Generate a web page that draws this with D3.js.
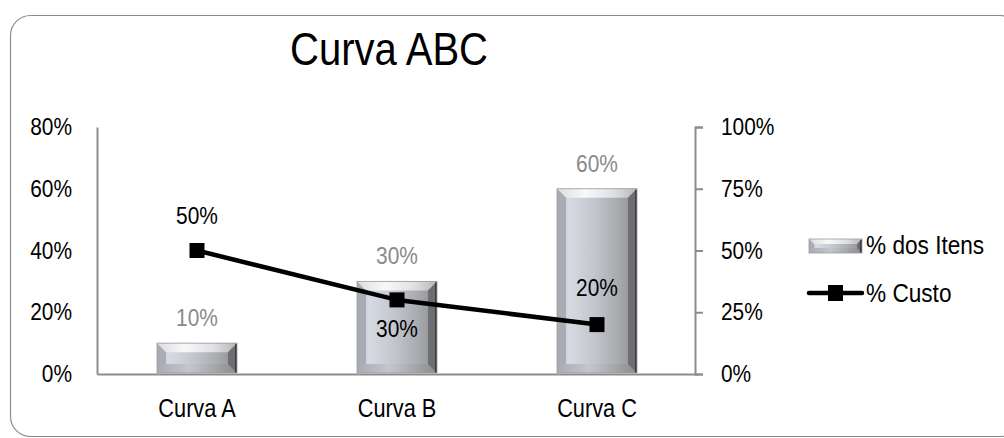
<!DOCTYPE html>
<html>
<head>
<meta charset="utf-8">
<script src="https://cdn.jsdelivr.net/npm/d3@7"></script>
<style>
  html, body { margin: 0; padding: 0; background: #fff; }
  svg { display: block; }
  text { font-family: "Liberation Sans", Arial, sans-serif; }
</style>
</head>
<body>
<svg id="chart" width="1004" height="438"></svg>
<script>
// Data
const categories = ["Curva A", "Curva B", "Curva C"];
const itensPct = [0.10, 0.30, 0.60];   // % dos Itens (bars, left axis)
const custoPct = [0.50, 0.30, 0.20];   // % Custo (line, right axis)
const leftTicks = [0, 0.2, 0.4, 0.6, 0.8];
const rightTicks = [0, 0.25, 0.5, 0.75, 1.0];
const seriesNames = ["% dos Itens", "% Custo"];
const title = "Curva ABC";

const svg = d3.select("#chart");
const W = 1004, H = 438;
const m = { left: 97, right: 307, top: 127, bottom: 64 };
const plotW = W - m.left - m.right;
const plotH = H - m.top - m.bottom;
const SX = 0.87;   // horizontal squeeze for a narrow typeface look

// Place a condensed text element at (x, y)
function narrowText(g, x0, y0, str, size, anchor, fill) {
  return g.append("text")
    .attr("transform", `translate(${x0},${y0}) scale(${SX},1)`)
    .attr("text-anchor", anchor).attr("font-size", size).attr("fill", fill)
    .text(str);
}
// Condense the tick labels produced by an axis
function narrowAxisText(g, size) {
  g.selectAll(".tick text").each(function () {
    const t = d3.select(this);
    const xv = +t.attr("x") || 0;
    t.attr("x", xv / SX).attr("transform", `scale(${SX},1)`)
      .attr("font-size", size).attr("fill", "#000")
      .attr("font-family", "Liberation Sans, Arial, sans-serif");
  });
}

// Chart frame with rounded corners
svg.append("rect")
  .attr("x", 10.5).attr("y", 15.5)
  .attr("width", 1010).attr("height", 421)
  .attr("rx", 20).attr("ry", 20)
  .attr("fill", "#fff").attr("stroke", "#8c8c8c").attr("stroke-width", 1.2);

// Title
narrowText(svg, 389, 65, title, 46, "middle", "#000");

// Gradients for the bevelled silver bars
const defs = svg.append("defs");
const face = defs.append("linearGradient").attr("id", "face").attr("x1", 0).attr("x2", 1).attr("y1", 0).attr("y2", 0);
[[0, "#b9bdc4"], [0.15, "#d6dae2"], [0.45, "#c4c7cd"], [0.75, "#a9abaf"], [1, "#8e8f92"]]
  .forEach(([o, c]) => face.append("stop").attr("offset", o).attr("stop-color", c));
const topG = defs.append("linearGradient").attr("id", "topBevel").attr("x1", 0).attr("x2", 1).attr("y1", 0).attr("y2", 0);
[[0, "#dcdde0"], [0.35, "#f7f8fa"], [0.7, "#e0e1e4"], [1, "#b5b6b8"]]
  .forEach(([o, c]) => topG.append("stop").attr("offset", o).attr("stop-color", c));
const botG = defs.append("linearGradient").attr("id", "botBevel").attr("x1", 0).attr("x2", 1).attr("y1", 0).attr("y2", 0);
[[0, "#a8abb1"], [0.4, "#c3c6cc"], [1, "#8a8b8e"]]
  .forEach(([o, c]) => botG.append("stop").attr("offset", o).attr("stop-color", c));

// Scales
const x = d3.scaleBand().domain(categories).range([m.left, m.left + plotW]).paddingInner(0.6).paddingOuter(0.3);
const yL = d3.scaleLinear().domain([0, 0.8]).range([m.top + plotH, m.top]);
const yR = d3.scaleLinear().domain([0, 1]).range([m.top + plotH, m.top]);
const pct = d3.format(".0%");

// Left axis
const axisColor = "#8c8c8c";
const gL = svg.append("g").attr("transform", `translate(${m.left},0)`)
  .call(d3.axisLeft(yL).tickValues(leftTicks).tickFormat(pct).tickSize(0).tickPadding(25));
gL.select(".domain").attr("stroke", axisColor).attr("stroke-width", 2);
narrowAxisText(gL, 24);

// Right axis
const gR = svg.append("g").attr("transform", `translate(${m.left + plotW - 2},0)`)
  .call(d3.axisRight(yR).tickValues(rightTicks).tickFormat(pct).tickSizeInner(8).tickSizeOuter(8).tickPadding(18));
gR.select(".domain").attr("stroke", axisColor).attr("stroke-width", 2);
gR.selectAll(".tick line").attr("stroke", axisColor).attr("stroke-width", 2);
narrowAxisText(gR, 24);

// Bottom axis
const gB = svg.append("g").attr("transform", `translate(0,${m.top + plotH})`)
  .call(d3.axisBottom(x).tickSize(0).tickPadding(25));
gB.select(".domain").attr("stroke", axisColor).attr("stroke-width", 2);
narrowAxisText(gB, 25);

// Bevelled bar drawing
function bevelBar(g, x0, y0, w, h, b) {
  const x1 = x0 + w, y1 = y0 + h;
  b = Math.min(b, h / 2.5, w / 3);
  g.append("rect").attr("x", x0).attr("y", y0).attr("width", w).attr("height", h).attr("fill", "url(#face)");
  g.append("polygon").attr("points", [[x0, y0], [x1, y0], [x1 - b, y0 + b], [x0 + b, y0 + b]].join(" ")).attr("fill", "url(#topBevel)");
  g.append("polygon").attr("points", [[x0, y1], [x1, y1], [x1 - b, y1 - b], [x0 + b, y1 - b]].join(" ")).attr("fill", "url(#botBevel)");
  g.append("polygon").attr("points", [[x0, y0], [x0 + b, y0 + b], [x0 + b, y1 - b], [x0, y1]].join(" ")).attr("fill", "#a9acb2");
  g.append("polygon").attr("points", [[x1, y0], [x1 - b, y0 + b], [x1 - b, y1 - b], [x1, y1]].join(" ")).attr("fill", "#6d6e70");
  g.append("rect").attr("x", x1 - 2).attr("y", y0 + 1).attr("width", 2).attr("height", h - 1).attr("fill", "#3c3c3e");
  g.append("rect").attr("x", x0).attr("y", y0).attr("width", w).attr("height", h)
    .attr("fill", "none").attr("stroke", "#9b9c9f").attr("stroke-width", 0.8);
}

const bars = svg.append("g");
categories.forEach((c, i) => {
  const y0 = yL(itensPct[i]);
  bevelBar(bars.append("g"), x(c), y0, x.bandwidth(), yL(0) - y0 - 1, 9);
});

// Bar value labels
const cx = c => x(c) + x.bandwidth() / 2;
const barLabels = svg.append("g");
categories.forEach((c, i) => {
  narrowText(barLabels, cx(c), yL(itensPct[i]) - 17, pct(itensPct[i]), 24, "middle", "#8a8a8a");
});

// Cost line
svg.append("path")
  .datum(categories)
  .attr("d", d3.line().x(cx).y((c, i) => yR(custoPct[i])))
  .attr("fill", "none").attr("stroke", "#000").attr("stroke-width", 4.5).attr("stroke-linejoin", "round");
svg.append("g").selectAll("rect").data(categories).join("rect")
  .attr("x", c => cx(c) - 7.5).attr("y", (c, i) => yR(custoPct[i]) - 7.5)
  .attr("width", 15).attr("height", 15).attr("fill", "#000");

// Cost labels: above, below, above
const labelDy = [-27, 37, -29];
const costLabels = svg.append("g");
categories.forEach((c, i) => {
  narrowText(costLabels, cx(c), yR(custoPct[i]) + labelDy[i], pct(custoPct[i]), 24, "middle", "#000");
});

// Legend
const lg = svg.append("g").attr("transform", "translate(809,0)");
bevelBar(lg.append("g"), 0, 239, 53, 14, 5);
narrowText(lg, 57, 254, seriesNames[0], 26, "start", "#000");
lg.append("line").attr("x1", 0).attr("x2", 53).attr("y1", 293).attr("y2", 293)
  .attr("stroke", "#000").attr("stroke-width", 4.5).attr("stroke-linecap", "round");
lg.append("rect").attr("x", 19).attr("y", 285).attr("width", 15).attr("height", 16).attr("fill", "#000");
narrowText(lg, 57, 302, seriesNames[1], 26, "start", "#000");
</script>
</body>
</html>
